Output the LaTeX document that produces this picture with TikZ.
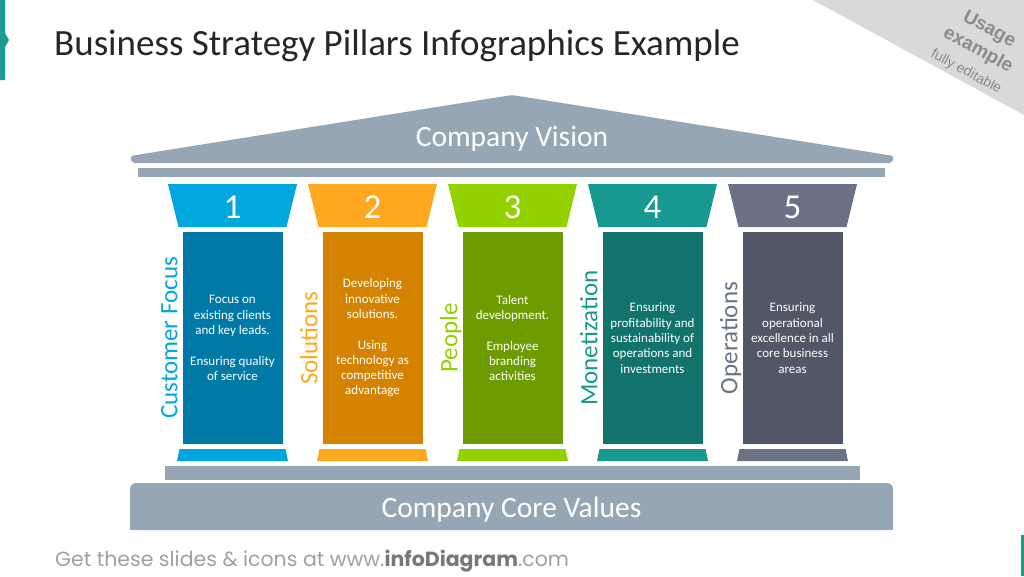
\documentclass[tikz,border=0pt]{standalone}
\usepackage{fontspec}
\setmainfont{Carlito}
\newfontfamily\footfont{Poppins}
\newfontfamily\tagfont{Liberation Sans}
\usetikzlibrary{positioning}
\definecolor{roofgrey}{RGB}{151,166,181}
\definecolor{accent}{RGB}{26,155,143}
\definecolor{bannergrey}{RGB}{217,217,217}
\definecolor{tagtext}{RGB}{140,140,140}
\definecolor{titletext}{RGB}{38,38,38}
\definecolor{foottext}{RGB}{160,160,160}
\definecolor{footbold}{RGB}{120,120,120}
\definecolor{capA}{RGB}{0,166,222}   \definecolor{shaftA}{RGB}{0,121,166}
\definecolor{capB}{RGB}{253,168,30}  \definecolor{shaftB}{RGB}{212,131,0}
\definecolor{capC}{RGB}{146,208,0}   \definecolor{shaftC}{RGB}{110,156,0}
\definecolor{capD}{RGB}{23,153,143}  \definecolor{shaftD}{RGB}{17,115,108}
\definecolor{capE}{RGB}{107,114,134} \definecolor{shaftE}{RGB}{82,87,103}

\begin{document}
\begin{tikzpicture}[x=1pt,y=-1pt,
  shaft/.style={minimum width=100pt,minimum height=212pt,inner sep=0pt,align=center,text=white,
    font=\fontsize{13}{15.3}\selectfont},
  pillarnum/.style={text=white,inner sep=0pt,font=\fontsize{35}{40}\selectfont},
  pillarlabel/.style={rotate=90,anchor=base,inner sep=0pt,font=\fontsize{25}{30}\selectfont},
  bandtext/.style={text=white,inner sep=0pt,font=\fontsize{29.5}{34}\selectfont}]
  \useasboundingbox (0,0) rectangle (1024,576);
  % accents and title
  \fill[accent] (0,0) -- (5,0) -- (5,33) -- (9,40) -- (5,47) -- (5,80) -- (0,80) -- cycle;
  \fill[accent] (1021,535) rectangle (1024,576);
  \node[anchor=base west,inner sep=0pt,text=titletext,font=\fontsize{37}{44}\selectfont] (title) at (54,55)
    {Business Strategy Pillars Infographics Example};
  \fill[bannergrey] (813,0) -- (1024,0) -- (1024,115) -- cycle;
  \node[rotate=-28.6,align=center,text=tagtext,inner sep=0pt,font=\tagfont\bfseries\fontsize{19}{23.5}\selectfont] (tag) at (978,50)
    {Usage\\example\\\mdseries\fontsize{14}{23.5}\selectfont fully editable};
  % roof
  \fill[roofgrey,rounded corners=3pt] (132,163) -- (130,156) -- (512,95) -- (894,156) -- (892,163) -- cycle;
  \node[bandtext] (vision) at (512,139) {Company Vision};
  \fill[roofgrey] (138,168) rectangle (885,177);
  % pillars
  \foreach \i/\c/\lab/\txt in {%
    1/A/Customer Focus/{Focus on\\existing clients\\and key leads.\\[15.3pt]Ensuring quality\\of service},
    2/B/Solutions/{Developing\\innovative\\solutions.\\[15.3pt]Using\\technology as\\competitive\\advantage},
    3/C/People/{Talent\\development.\\[15.3pt]Employee\\branding\\activities},
    4/D/Monetization/{Ensuring\\profitability and\\sustainability of\\operations and\\investments},
    5/E/Operations/{Ensuring\\operational\\excellence in all\\core business\\areas}}{
    \pgfmathsetmacro\cx{232.5+140*(\i-1)}
    \fill[cap\c] (\cx-64.5,184) -- (\cx+64.5,184) -- (\cx+54,227) -- (\cx-54,227) -- cycle;
    \node[pillarnum] (num\i) at (\cx,207) {\i};
    \node[shaft,fill=shaft\c] (shaft\i) at (\cx,338) {\txt};
    \node[pillarlabel,text=cap\c] (lab\i) at ([xshift=-5pt]shaft\i.west) {\lab};
    \fill[cap\c] (\cx-53,449) -- (\cx+53,449) -- (\cx+55.5,461) -- (\cx-55.5,461) -- cycle;
  }
  % foundation
  \fill[roofgrey] (165,466) rectangle (860,480);
  \fill[roofgrey,rounded corners=6pt] (130,483) rectangle (893,530);
  \fill[roofgrey] (130,500) rectangle (893,530);
  \node[bandtext] (values) at (511.5,510) {Company Core Values};
  \node[anchor=base west,inner sep=0pt,text=foottext,font=\footfont\fontsize{20.5}{24}\selectfont] (footer) at (55,566)
    {Get these slides \& icons at www.{\bfseries\color{footbold}infoDiagram}.com};
\end{tikzpicture}
\end{document}
